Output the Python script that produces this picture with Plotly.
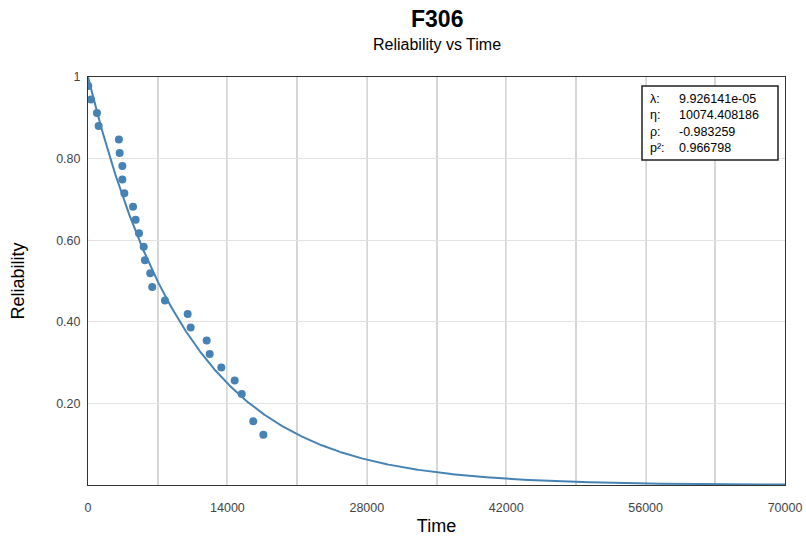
import numpy as np
import plotly.graph_objects as go

# Observed data points (Time, Reliability)
time_pts = [30, 300, 900, 1070, 3100, 3180, 3450, 3450, 3650, 4520, 4780, 5120,
            5590, 5720, 6250, 6450, 7730, 10010, 10310, 11920, 12220, 13390,
            14730, 15440, 16600, 17610]
rel_pts = [0.978, 0.945, 0.912, 0.880, 0.847, 0.814, 0.782, 0.749, 0.715, 0.682,
           0.650, 0.617, 0.584, 0.551, 0.519, 0.485, 0.452, 0.419, 0.386, 0.354,
           0.321, 0.288, 0.256, 0.223, 0.156, 0.123]

# Fitted exponential model parameters (shown in the info box)
lam = 9.926141e-05
eta = "10074.408186"
rho = "-0.983259"
rho2 = "0.966798"

x_ticks = [0, 14000, 28000, 42000, 56000, 70000]
y_ticks = [0.2, 0.4, 0.6, 0.8, 1.0]
y_tick_text = ["0.20", "0.40", "0.60", "0.80", "1"]

t_curve = np.linspace(0, 70000, 701)
r_curve = np.exp(-lam * t_curve)

color = "#4682b4"
fig = go.Figure()
fig.add_trace(go.Scatter(x=t_curve, y=r_curve, mode="lines",
                         line=dict(color=color, width=2), hoverinfo="skip"))
fig.add_trace(go.Scatter(x=time_pts, y=rel_pts, mode="markers",
                         marker=dict(color=color, size=8)))

font = "Liberation Sans, Arial, sans-serif"
fig.update_layout(
    width=806, height=536,
    margin=dict(l=88, r=21, t=77, b=51, autoexpand=False),
    paper_bgcolor="white", plot_bgcolor="white",
    showlegend=False,
    font=dict(family=font, size=12, color="#444"),
    xaxis=dict(range=[0, 70000], tickvals=x_ticks, ticktext=[str(v) for v in x_ticks],
               automargin=False,
               showgrid=True, gridcolor="#e2e2e2", gridwidth=1,
               minor=dict(dtick=7000, showgrid=True, gridcolor="#d6d6d6", gridwidth=2),
               showline=True, linecolor="#333", linewidth=1, mirror=True,
               zeroline=False, ticks="", ticklen=0, ticklabelstandoff=11,
               tickfont=dict(size=12.5),
               title=dict(text="Time", font=dict(family=font, size=18, color="black"), standoff=16)),
    yaxis=dict(range=[0, 1], tickvals=y_ticks, ticktext=y_tick_text,
               automargin=False,
               showgrid=True, gridcolor="#e2e2e2", gridwidth=1,
               showline=True, linecolor="#333", linewidth=1, mirror=True,
               zeroline=False, ticks="", ticklabelstandoff=4, tickfont=dict(size=12.5),
               title=dict(text="Reliability", font=dict(family=font, size=18, color="black"), standoff=26)),
)

# Title and subtitle
fig.add_annotation(xref="paper", yref="paper", x=0.5, y=(485 - 19) / 408,
                   text="<b>F306</b>", showarrow=False, xanchor="center", yanchor="middle",
                   font=dict(family=font, size=23, color="black"))
fig.add_annotation(xref="paper", yref="paper", x=0.5, y=(485 - 44) / 408,
                   text="Reliability vs Time", showarrow=False, xanchor="center", yanchor="middle",
                   font=dict(family=font, size=16, color="black"))

# Info box
fig.add_shape(type="rect", xref="paper", yref="paper",
              x0=(642 - 88) / 697, x1=(778 - 88) / 697,
              y0=(485 - 160) / 408, y1=(485 - 86) / 408,
              line=dict(color="#222", width=1.5), fillcolor="white", layer="above")
labels = ["λ:", "η:", "ρ:", "p²:"]
values = [f"{lam:.6e}", eta, rho, rho2]
fig.add_annotation(xref="paper", yref="paper", x=(648 - 88) / 697, y=(485 - 123) / 408,
                   text="<br>".join(labels), showarrow=False, align="left",
                   xanchor="left", yanchor="middle",
                   font=dict(family=font, size=12.5, color="black"))
fig.add_annotation(xref="paper", yref="paper", x=(677 - 88) / 697, y=(485 - 123) / 408,
                   text="<br>".join(values), showarrow=False, align="left",
                   xanchor="left", yanchor="middle",
                   font=dict(family=font, size=12.5, color="black"))

fig.write_html("out.html")
